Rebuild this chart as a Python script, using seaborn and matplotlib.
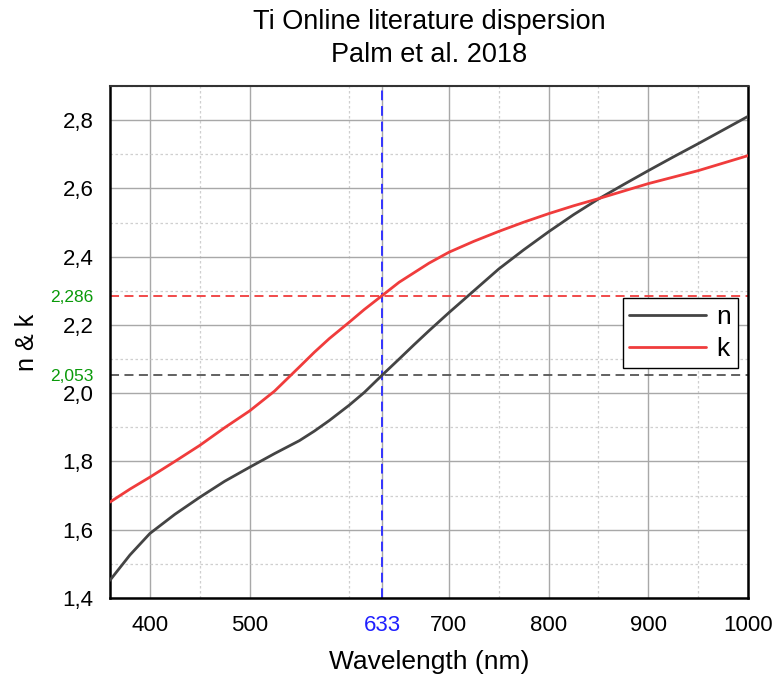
import numpy as np
import pandas as pd
import matplotlib
matplotlib.use("Agg")
import matplotlib.pyplot as plt
import seaborn as sns

# ---- data ----
wavelength = [360, 380, 400, 425, 450, 475, 500, 525, 550, 565, 580, 600, 615, 633,
              650, 665, 680, 700, 725, 750, 775, 800, 825, 850, 875, 900, 925, 950,
              975, 1000]
n_values = [1.452, 1.526, 1.589, 1.645, 1.695, 1.742, 1.783, 1.823, 1.861, 1.889,
            1.920, 1.965, 2.002, 2.053, 2.100, 2.142, 2.183, 2.236, 2.300, 2.364,
            2.420, 2.473, 2.523, 2.569, 2.611, 2.652, 2.692, 2.731, 2.771, 2.811]
k_values = [1.681, 1.719, 1.754, 1.800, 1.847, 1.899, 1.948, 2.006, 2.077, 2.120,
            2.160, 2.208, 2.245, 2.286, 2.325, 2.353, 2.381, 2.413, 2.445, 2.474,
            2.501, 2.526, 2.549, 2.570, 2.592, 2.614, 2.633, 2.652, 2.674, 2.696]

x_major = [400, 500, 633, 700, 800, 900, 1000]
x_major_labels = ["400", "500", "633", "700", "800", "900", "1000"]
x_minor = [450, 600, 750, 850, 950]
y_major = [1.4, 1.6, 1.8, 2.0, 2.2, 2.4, 2.6, 2.8]
y_major_labels = ["1,4", "1,6", "1,8", "2,0", "2,2", "2,4", "2,6", "2,8"]
y_minor = [1.5, 1.7, 1.9, 2.1, 2.3, 2.5, 2.7, 2.9]
marker_wl = 633
marker_n = 2.053
marker_k = 2.286
marker_labels = ["2,053", "2,286"]

df = pd.DataFrame({
    "Wavelength": wavelength * 2,
    "value": n_values + k_values,
    "series": ["n"] * len(wavelength) + ["k"] * len(wavelength),
})

sns.set_style("white")
plt.rcParams["font.family"] = ["Liberation Sans", "DejaVu Sans"]
plt.rcParams["text.color"] = "black"
plt.rcParams["axes.labelcolor"] = "black"
plt.rcParams["xtick.color"] = "black"
plt.rcParams["ytick.color"] = "black"
plt.rcParams["lines.solid_joinstyle"] = "round"

fig = plt.figure(figsize=(7.76, 6.82), dpi=100)
ax = fig.add_axes([110 / 776, 1 - 598 / 682, (748 - 110) / 776, (598 - 86) / 682])

# grid
for x in x_major:
    ax.axvline(x, color="#a8a8a8", lw=1.0, zorder=0)
for x in x_minor:
    ax.axvline(x, color="#cfcfcf", lw=0.9, ls=(0, (2, 2)), zorder=0)
for y in y_major:
    ax.axhline(y, color="#a8a8a8", lw=1.0, zorder=0)
for y in y_minor:
    ax.axhline(y, color="#cfcfcf", lw=0.9, ls=(0, (2, 2)), zorder=0)

sns.lineplot(data=df, x="Wavelength", y="value", hue="series",
             palette={"n": "#444444", "k": "#f03c3c"}, lw=2.0, ax=ax, zorder=3,
             sort=False)

ax.axhline(marker_k, color="#f03c3c", lw=1.3, ls=(0, (5, 3)), zorder=2)
ax.axhline(marker_n, color="#555555", lw=1.3, ls=(0, (5, 3)), zorder=2)
ax.axvline(marker_wl, color="#3333ff", lw=1.4, ls=(0, (5, 3)), zorder=2)

ax.set_xlim(360, 1000)
ax.set_ylim(1.4, 2.893)

ax.set_xticks(x_major)
ax.set_xticklabels(x_major_labels)
ax.set_xticks(x_minor, minor=True)
ax.set_yticks(y_major + [marker_n, marker_k])
ax.set_yticklabels(y_major_labels + marker_labels)
ax.set_yticks(y_minor, minor=True)

ax.tick_params(axis="both", which="major", direction="out", length=6, width=1.6,
               labelsize=16, colors="black", pad=6)
ax.tick_params(axis="both", which="minor", direction="out", length=3.5, width=1.4)
for lab in ax.get_xticklabels():
    if lab.get_text() == "633":
        lab.set_color("#2020ff")
ylabs = ax.get_yticklabels()
yticks = ax.yaxis.get_major_ticks()
for lab, tk in zip(ylabs, yticks):
    if lab.get_text() in marker_labels:
        lab.set_color("#0a9a0a")
        lab.set_fontsize(12.5)
        tk.tick1line.set_color("#0a9a0a")

for s in ax.spines.values():
    s.set_visible(True)
    s.set_color("black")
    s.set_linewidth(1.8)
ax.spines["top"].set_color("#333333")
ax.spines["top"].set_linewidth(1.5)

ax.set_xlabel("Wavelength (nm)", fontsize=19, labelpad=10)
ax.set_ylabel("n & k", fontsize=18, labelpad=8)
ax.set_title("Ti Online literature dispersion\nPalm et al. 2018", fontsize=19.5,
             pad=17, linespacing=1.38, color="black")

leg = ax.legend(loc="upper right", bbox_to_anchor=(0.984, 0.585), fontsize=19,
                frameon=True, fancybox=False, edgecolor="black", framealpha=1,
                handlelength=2.9, handletextpad=0.4, borderpad=0.25,
                labelspacing=0.3, borderaxespad=0)
leg.get_frame().set_linewidth(1.0)
for t in leg.get_texts():
    t.set_color("black")

fig.savefig("out.png", dpi=100)
